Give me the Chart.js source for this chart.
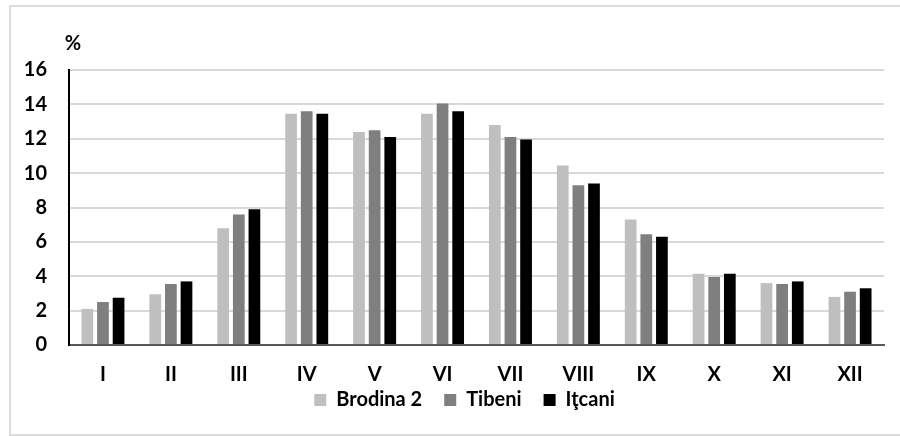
<!DOCTYPE html>
<html>
<head>
<meta charset="utf-8">
<script src="https://cdn.jsdelivr.net/npm/chart.js@4"></script>
<style>
  html, body { margin: 0; padding: 0; background: #fff; }
  #wrap { width: 900px; height: 436px; }
</style>
</head>
<body>
<div id="wrap"><canvas id="c" width="900" height="436"></canvas></div>
<script>
// Monthly share (%) by station
const months = ['I', 'II', 'III', 'IV', 'V', 'VI', 'VII', 'VIII', 'IX', 'X', 'XI', 'XII'];
const brodina2 = [2.1, 2.95, 6.8, 13.45, 12.4, 13.45, 12.8, 10.45, 7.3, 4.15, 3.6, 2.8];
const tibeni   = [2.5, 3.55, 7.6, 13.6, 12.5, 14.05, 12.1, 9.3, 6.45, 3.95, 3.55, 3.1];
const itcani   = [2.75, 3.7, 7.9, 13.45, 12.1, 13.6, 11.95, 9.4, 6.3, 4.15, 3.7, 3.3];
const yTicks   = [0, 2, 4, 6, 8, 10, 12, 14, 16];

const FONT = 'Lato, "Liberation Sans", sans-serif';

// Light frame around the figure, the "%" unit above the value axis,
// and enough room for the axis labels to overlap neighbouring boxes
const decor = {
  id: 'decor',
  afterLayout(chart) {
    chart.scales.y.left = 9;
    chart.scales.x.bottom = chart.scales.x.top + 54;
  },
  beforeDraw(chart) {
    const ctx = chart.ctx;
    ctx.save();
    ctx.strokeStyle = '#dcdcdc';
    ctx.lineWidth = 2;
    ctx.strokeRect(10, 6, 900, 429);
    ctx.restore();
  },
  afterDraw(chart) {
    const ctx = chart.ctx;
    const a = chart.chartArea;
    ctx.save();
    ctx.fillStyle = '#000';
    ctx.font = 'bold 20px ' + FONT;
    ctx.textAlign = 'center';
    ctx.textBaseline = 'middle';
    ctx.fillText('%', a.left + 4, 44);
    ctx.restore();
  }
};

new Chart(document.getElementById('c'), {
  type: 'bar',
  data: {
    labels: months,
    datasets: [
      { label: 'Brodina 2', data: brodina2, backgroundColor: '#bfbfbf' },
      { label: 'Tibeni', data: tibeni, backgroundColor: '#7f7f7f' },
      { label: 'Iţcani', data: itcani, backgroundColor: '#000000' }
    ]
  },
  options: {
    responsive: false,
    animation: false,
    events: [],
    layout: { padding: { left: 45, right: 16, top: 70, bottom: 16 } },
    datasets: { bar: { categoryPercentage: 0.69, barPercentage: 0.75 } },
    scales: {
      x: {
        grid: { display: false, drawTicks: false },
        border: { display: true, color: '#595959', width: 2 },
        ticks: { color: '#000', font: { family: FONT, size: 20, weight: 'bold' }, padding: 18, maxRotation: 0 },
        afterFit(s) { s.height = 23; }
      },
      y: {
        min: 0,
        max: 16,
        afterBuildTicks(s) { s.ticks = yTicks.map(v => ({ value: v })); },
        grid: { color: '#d9d9d9', lineWidth: 2, drawTicks: false },
        border: { display: true, color: '#000', width: 2 },
        ticks: { color: '#000', font: { family: FONT, size: 20, weight: 'bold' }, padding: 22 },
        afterFit(s) { s.width = 24; }
      }
    },
    plugins: {
      tooltip: { enabled: false },
      legend: {
        position: 'bottom',
        labels: {
          color: '#000',
          boxWidth: 12,
          boxHeight: 12,
          padding: 22,
          font: { family: FONT, size: 20, weight: 'bold' }
        }
      }
    }
  },
  plugins: [decor]
});
</script>
</body>
</html>
